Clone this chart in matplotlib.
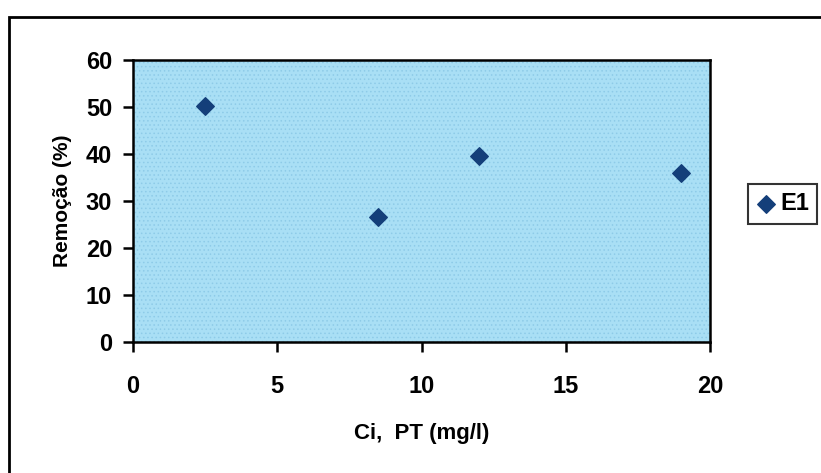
import matplotlib
matplotlib.use("Agg")
import matplotlib.pyplot as plt
from matplotlib.patches import Rectangle

# data
ci_pt = [2.5, 8.5, 12.0, 19.0]
remocao = [50.3, 26.5, 39.5, 36.0]
series_name = "E1"

plt.rcParams['font.family'] = ['Liberation Sans', 'DejaVu Sans']
plt.rcParams['font.weight'] = 'bold'
plt.rcParams['hatch.linewidth'] = 0.6

fig = plt.figure(figsize=(8.21, 4.73), dpi=100)
fig.patch.set_facecolor('white')

# outer chart frame (runs off right and bottom edges)
fig.patches.append(Rectangle((9/821, -0.05), 1.05, 1 - 17/473 + 0.05,
                             transform=fig.transFigure, fill=False,
                             edgecolor='black', linewidth=2.0))

ax = fig.add_axes([133/821, 1 - 342/473, 577/821, 282/473])
ax.set_facecolor('#a9dff5')
# dotted plot-area fill
ax.add_patch(Rectangle((0, 0), 1, 1, transform=ax.transAxes, facecolor='none',
                       edgecolor='#8ecbe8', hatch='....', linewidth=0, zorder=0.5))
ax.scatter(ci_pt, remocao, marker='D', s=80, color='#143f7a', zorder=3, label=series_name)

ax.set_xlim(0, 20)
ax.set_ylim(0, 60)
ax.set_xticks([0, 5, 10, 15, 20])
ax.set_yticks([0, 10, 20, 30, 40, 50, 60])
for s in ax.spines.values():
    s.set_linewidth(1.8)
ax.tick_params(direction='out', length=7, width=1.8, labelsize=17)
ax.tick_params(axis='x', pad=17)
ax.tick_params(axis='y', pad=8)
for lbl in ax.get_xticklabels() + ax.get_yticklabels():
    lbl.set_fontweight('bold')

ax.set_xlabel('Ci,  PT (mg/l)', fontsize=16, fontweight='bold', labelpad=18)
ax.set_ylabel('Remoção (%)', fontsize=15, fontweight='bold', labelpad=10)

leg = fig.legend(loc='center left', bbox_to_anchor=(748/821, 1 - 204/473),
                 frameon=True, fancybox=False, edgecolor='black', fontsize=17,
                 handletextpad=0.2, borderpad=0.35, handlelength=0.8,
                 borderaxespad=0)
leg.get_frame().set_linewidth(1.5)
for t in leg.get_texts():
    t.set_fontweight('bold')

fig.savefig('out.png', dpi=100)
